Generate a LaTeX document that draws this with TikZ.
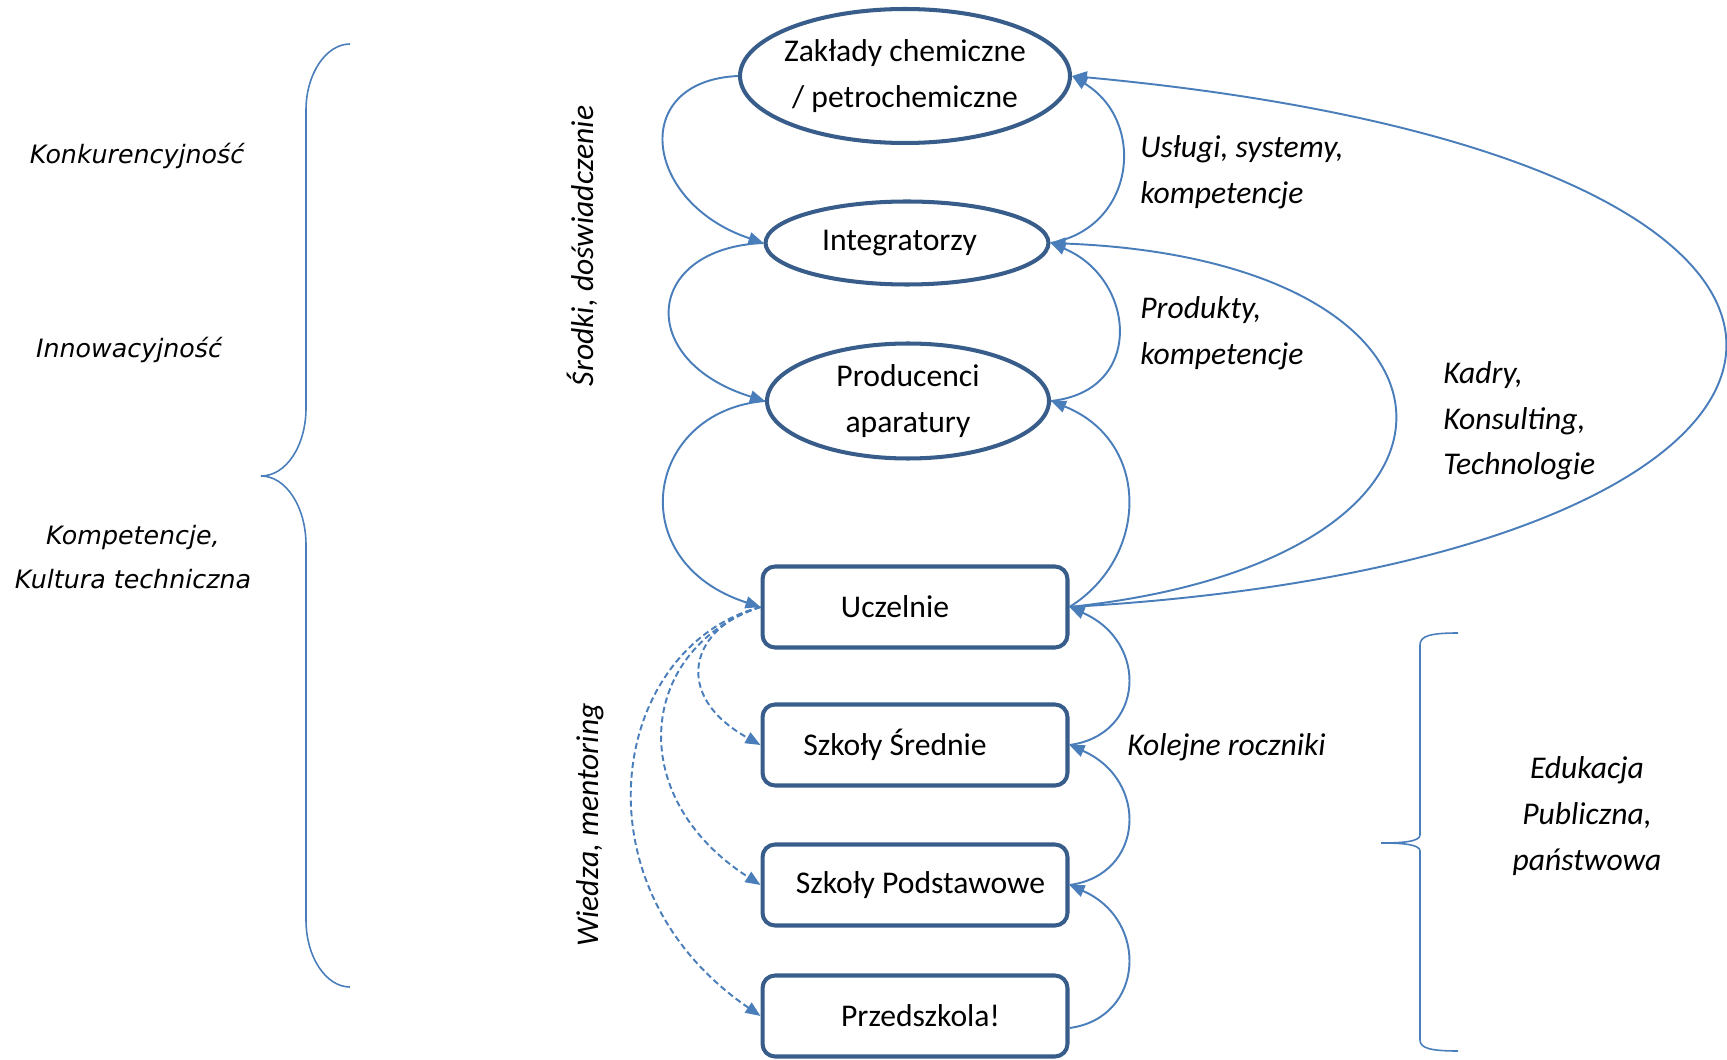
\documentclass[tikz,border=0pt]{standalone}
\usepackage{fontspec}
\setmainfont{Carlito}
\newfontfamily\larga{DejaVu Sans}
\usetikzlibrary{shapes.geometric,arrows.meta}
\definecolor{linea}{HTML}{4A7EBB}
\definecolor{bordo}{HTML}{385D8A}

\begin{document}
\begin{tikzpicture}[x=0.02cm,y=-0.02cm,
    ovale/.style={ellipse,draw=bordo,line width=2.3pt,inner sep=0pt,align=center,font=\fontsize{18}{26}\selectfont},
    scatola/.style={rectangle,rounded corners=0.25cm,draw=bordo,line width=2.3pt,minimum width=6.1cm,minimum height=1.62cm,font=\fontsize{18}{26}\selectfont},
    freccia/.style={draw=linea,line width=1.1pt,-{Triangle[length=0.3cm,width=0.24cm]}},
    tratteggio/.style={freccia,dash pattern=on 3.5pt off 2pt},
    etichetta/.style={font=\fontsize{18}{26}\selectfont\itshape,align=left,inner sep=0pt},
    sinistra/.style={font=\fontsize{14.4}{25.5}\selectfont\larga\itshape,align=center,inner sep=0pt},
    graffa/.style={draw=linea,line width=0.9pt}]
    \useasboundingbox (0,0) rectangle (1727,1060);

    % Nodi
    \node[ovale,minimum width=6.6cm,minimum height=2.68cm,inner xsep=-0.4cm] (zak) at (905,76) {Zakłady chemiczne\\ / petrochemiczne};
    \node[ovale,minimum width=5.66cm,minimum height=1.66cm] (int) at (907,243) {Integratorzy\hspace*{0.3cm}};
    \node[ovale,minimum width=5.64cm,minimum height=2.3cm] (pro) at (908,401) {Producenci\\aparatury};
    \node[scatola] (ucz) at (915,607) {Uczelnie\hspace*{0.8cm}};
    \node[scatola] (sre) at (915,745) {Szkoły Średnie\hspace*{0.8cm}};
    \node[scatola] (pod) at (915,885) {\hspace*{0.22cm}Szkoły Podstawowe};
    \node[scatola] (prz) at (915,1016) {\hspace*{0.22cm}Przedszkola!};

    % Frecce a sinistra
    \draw[freccia] (zak.west) .. controls +(-110,5) and +(-120,-40) .. (int.west);
    \draw[freccia] (int.west) .. controls +(-120,5) and +(-130,-40) .. (pro.west);
    \draw[freccia] (pro.west) .. controls +(-120,10) and +(-140,-45) .. (ucz.west);

    % Frecce a destra
    \draw[freccia] (int.east) .. controls +(85,-15) and +(75,45) .. (zak.east);
    \draw[freccia] (pro.east) .. controls +(95,-10) and +(85,35) .. (int.east);
    \draw[freccia] (ucz.east) .. controls +(80,-50) and +(100,40) .. (pro.east);
    \draw[freccia] (ucz.east) .. controls +(447,-47) and +(445,17) .. (int.east);
    \draw[freccia] (ucz.east) .. controls +(827,-47) and +(915,85) .. (zak.east);

    % Kolejne roczniki
    \draw[freccia] (sre.east) .. controls +(75,-10) and +(80,35) .. (ucz.east);
    \draw[freccia] (pod.east) .. controls +(75,-10) and +(80,35) .. (sre.east);
    \draw[freccia] ([yshift=-0.24cm]prz.east) .. controls +(75,-10) and +(80,35) .. (pod.east);

    % Tratteggiate
    \draw[tratteggio] (ucz.west) .. controls +(-70,20) and +(-90,-50) .. (sre.west);
    \draw[tratteggio] (ucz.west) .. controls +(-120,40) and +(-140,-90) .. (pod.west);
    \draw[tratteggio] (ucz.west) .. controls +(-150,40) and +(-190,-130) .. (prz.west);

    % Graffe
    \draw[graffa] (350,44) .. controls (326,44) and (306,74) .. (306,110) -- (306,408)
        .. controls (306,446) and (286,476) .. (261,476)
        .. controls (286,476) and (306,507) .. (306,545) -- (306,920)
        .. controls (306,957) and (326,987) .. (350,987);
    \draw[graffa] (1458,633) .. controls (1430,633) and (1420,636) .. (1420,645) -- (1420,835)
        .. controls (1420,842) and (1400,843) .. (1381,843)
        .. controls (1400,843) and (1420,844) .. (1420,851) -- (1420,1040)
        .. controls (1420,1048) and (1430,1051) .. (1458,1051);

    % Etichette
    \node[etichetta,anchor=west] (usl) at (1140,172) {Usługi, systemy,\\kompetencje};
    \node[etichetta,anchor=west] (prod) at (1140,333) {Produkty,\\kompetencje};
    \node[etichetta,anchor=west] (kad) at (1443,421) {Kadry,\\Konsulting,\\Technologie};
    \node[etichetta,anchor=west] (kol) at (1127,747) {Kolejne roczniki};
    \node[etichetta,align=center] (edu) at (1587,816) {Edukacja\\Publiczna,\\państwowa};
    \node[etichetta,rotate=90] (srod) at (582,246) {Środki, doświadczenie};
    \node[etichetta,rotate=90] (wie) at (590,825) {Wiedza, mentoring};
    \node[sinistra] (konk) at (137,156) {Konkurencyjność};
    \node[sinistra] (inno) at (129,350) {Innowacyjność};
    \node[sinistra] (komp) at (133,557) {Kompetencje,\\Kultura techniczna};
\end{tikzpicture}
\end{document}
